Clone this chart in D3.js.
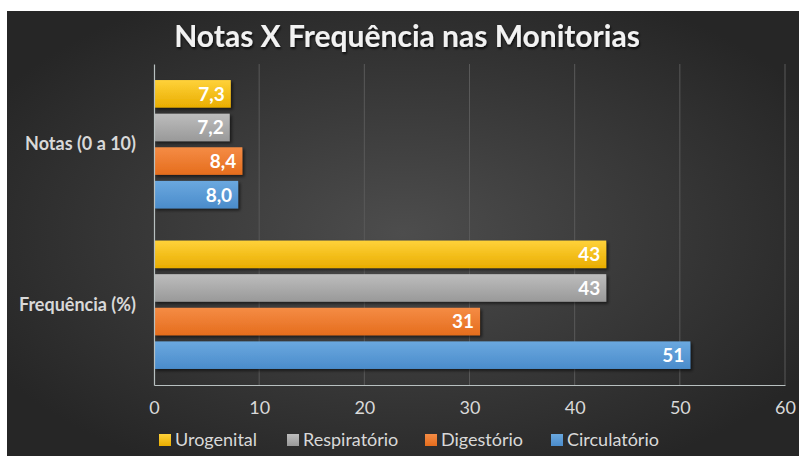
<!DOCTYPE html>
<html>
<head>
<meta charset="utf-8">
<script src="https://cdn.jsdelivr.net/npm/d3@7"></script>
<style>
  body { margin: 0; background: #fff; }
  svg { display: block; }
</style>
</head>
<body>
<div id="chart"></div>
<script>
let categories = ["Notas (0 a 10)", "Frequência (%)"];
let series = ["Urogenital", "Respiratório", "Digestório", "Circulatório"];
let notas = [7.3, 7.2, 8.4, 8.0];
let frequencia = [43, 43, 31, 51];
let xTicks = [0, 10, 20, 30, 40, 50, 60];

let colors = {
    "Urogenital": ["#ffd23a", "#e9ad00"],
    "Respiratório": ["#bdbdbd", "#999999"],
    "Digestório": ["#f58c45", "#e56d1d"],
    "Circulatório": ["#6aa8df", "#4b8ccb"]
};

let rows = [];
categories.forEach((c, i) => {
    let vals = i == 0 ? notas : frequencia;
    series.forEach((s, j) => rows.push({cat: c, serie: s, value: vals[j], dec: i == 0}));
});

let W = 800, H = 456;
let margin = {top: 64, right: 15, bottom: 71, left: 154};

let svg = d3.select("#chart")
    .append("svg")
        .attr("width", W)
        .attr("height", H);

let defs = svg.append("defs");
let bg = defs.append("radialGradient").attr("id", "bg")
    .attr("cx", "50%").attr("cy", "50%").attr("r", "60%");
bg.append("stop").attr("offset", "0%").attr("stop-color", "#4d4d4d");
bg.append("stop").attr("offset", "100%").attr("stop-color", "#262626");

series.forEach((s, i) => {
    let g = defs.append("linearGradient").attr("id", "g" + i)
        .attr("x1", 0).attr("y1", 0).attr("x2", 0).attr("y2", 1);
    g.append("stop").attr("offset", "0%").attr("stop-color", colors[s][0]);
    g.append("stop").attr("offset", "100%").attr("stop-color", colors[s][1]);
});

let shadow = defs.append("filter").attr("id", "shadow")
    .attr("x", "-5%").attr("y", "-20%").attr("width", "115%").attr("height", "150%");
shadow.append("feDropShadow").attr("dx", 2).attr("dy", 2).attr("stdDeviation", 1.5)
    .attr("flood-color", "#000").attr("flood-opacity", 0.55);

let tshadow = defs.append("filter").attr("id", "tshadow");
tshadow.append("feDropShadow").attr("dx", 1).attr("dy", 2).attr("stdDeviation", 1.2)
    .attr("flood-color", "#000").attr("flood-opacity", 0.7);

svg.append("rect")
    .attr("x", 7).attr("y", 11)
    .attr("width", W - 8).attr("height", H - 11)
    .attr("fill", "url(#bg)");

let x = d3.scaleLinear()
    .domain([0, 60])
    .range([margin.left, W - margin.right]);

let y = d3.scaleBand()
    .domain(categories)
    .range([margin.top, H - margin.bottom])
    .paddingInner(0.2)
    .paddingOuter(0.1);

let ySub = d3.scaleBand()
    .domain(series)
    .range([0, y.bandwidth()])
    .paddingInner(0.18)
    .paddingOuter(0);

let font = "Lato, 'Open Sans', sans-serif";

// grid
svg.append("g")
    .selectAll("line")
    .data(xTicks.slice(1))
    .join("line")
        .attr("x1", d => x(d)).attr("x2", d => x(d))
        .attr("y1", margin.top).attr("y2", H - margin.bottom)
        .attr("stroke", "#595959")
        .attr("stroke-width", 1);

// bars
svg.append("g")
    .selectAll("rect")
    .data(rows)
    .join("rect")
        .attr("x", x(0))
        .attr("y", d => y(d.cat) + ySub(d.serie))
        .attr("width", d => x(d.value) - x(0))
        .attr("height", ySub.bandwidth())
        .attr("fill", d => "url(#g" + series.indexOf(d.serie) + ")")
        .attr("filter", "url(#shadow)");

// value labels
svg.append("g")
    .selectAll("text")
    .data(rows)
    .join("text")
        .attr("x", d => x(d.value) - 6)
        .attr("y", d => y(d.cat) + ySub(d.serie) + ySub.bandwidth() / 2)
        .attr("dy", "0.36em")
        .attr("text-anchor", "end")
        .attr("fill", "#fff")
        .attr("font-family", font)
        .attr("font-weight", "bold")
        .attr("font-size", 19)
        .text(d => d.dec ? d3.format(".1f")(d.value).replace(".", ",") : d.value);

// axes
let xAxis = svg.append("g")
    .attr("transform", `translate(0,${H - margin.bottom})`)
    .call(d3.axisBottom(x).tickValues(xTicks).tickSize(0).tickPadding(16));
xAxis.select(".domain").attr("stroke", "#b8c0c0").attr("stroke-width", 1.2);
xAxis.selectAll("text")
    .attr("fill", "#d9d9d9")
    .attr("font-family", font)
    .attr("font-size", 18);

let yAxis = svg.append("g")
    .attr("transform", `translate(${margin.left},0)`)
    .call(d3.axisLeft(y).tickSize(0).tickPadding(18));
yAxis.select(".domain").attr("stroke", "#b8c0c0").attr("stroke-width", 1.2);
yAxis.selectAll("text")
    .attr("fill", "#d9d9d9")
    .attr("font-family", font)
    .attr("font-weight", "bold")
    .attr("font-size", 18);

// title
svg.append("text")
    .attr("x", 407)
    .attr("y", 47)
    .attr("text-anchor", "middle")
    .attr("fill", "#f2f2f2")
    .attr("font-family", font)
    .attr("font-weight", "bold")
    .attr("font-size", 30)
    .attr("filter", "url(#tshadow)")
    .text("Notas X Frequência nas Monitorias");

// legend
let legendX = [159, 287, 425, 551];
let legend = svg.append("g")
    .selectAll("g")
    .data(series)
    .join("g")
        .attr("transform", (d, i) => `translate(${legendX[i]},440)`);
legend.append("rect")
    .attr("x", 0).attr("y", -6)
    .attr("width", 12).attr("height", 12)
    .attr("fill", (d, i) => "url(#g" + i + ")");
legend.append("text")
    .attr("x", 16)
    .attr("y", 0)
    .attr("dy", "0.36em")
    .attr("fill", "#d9d9d9")
    .attr("font-family", font)
    .attr("font-size", 18)
    .text(d => d);
</script>
</body>
</html>
